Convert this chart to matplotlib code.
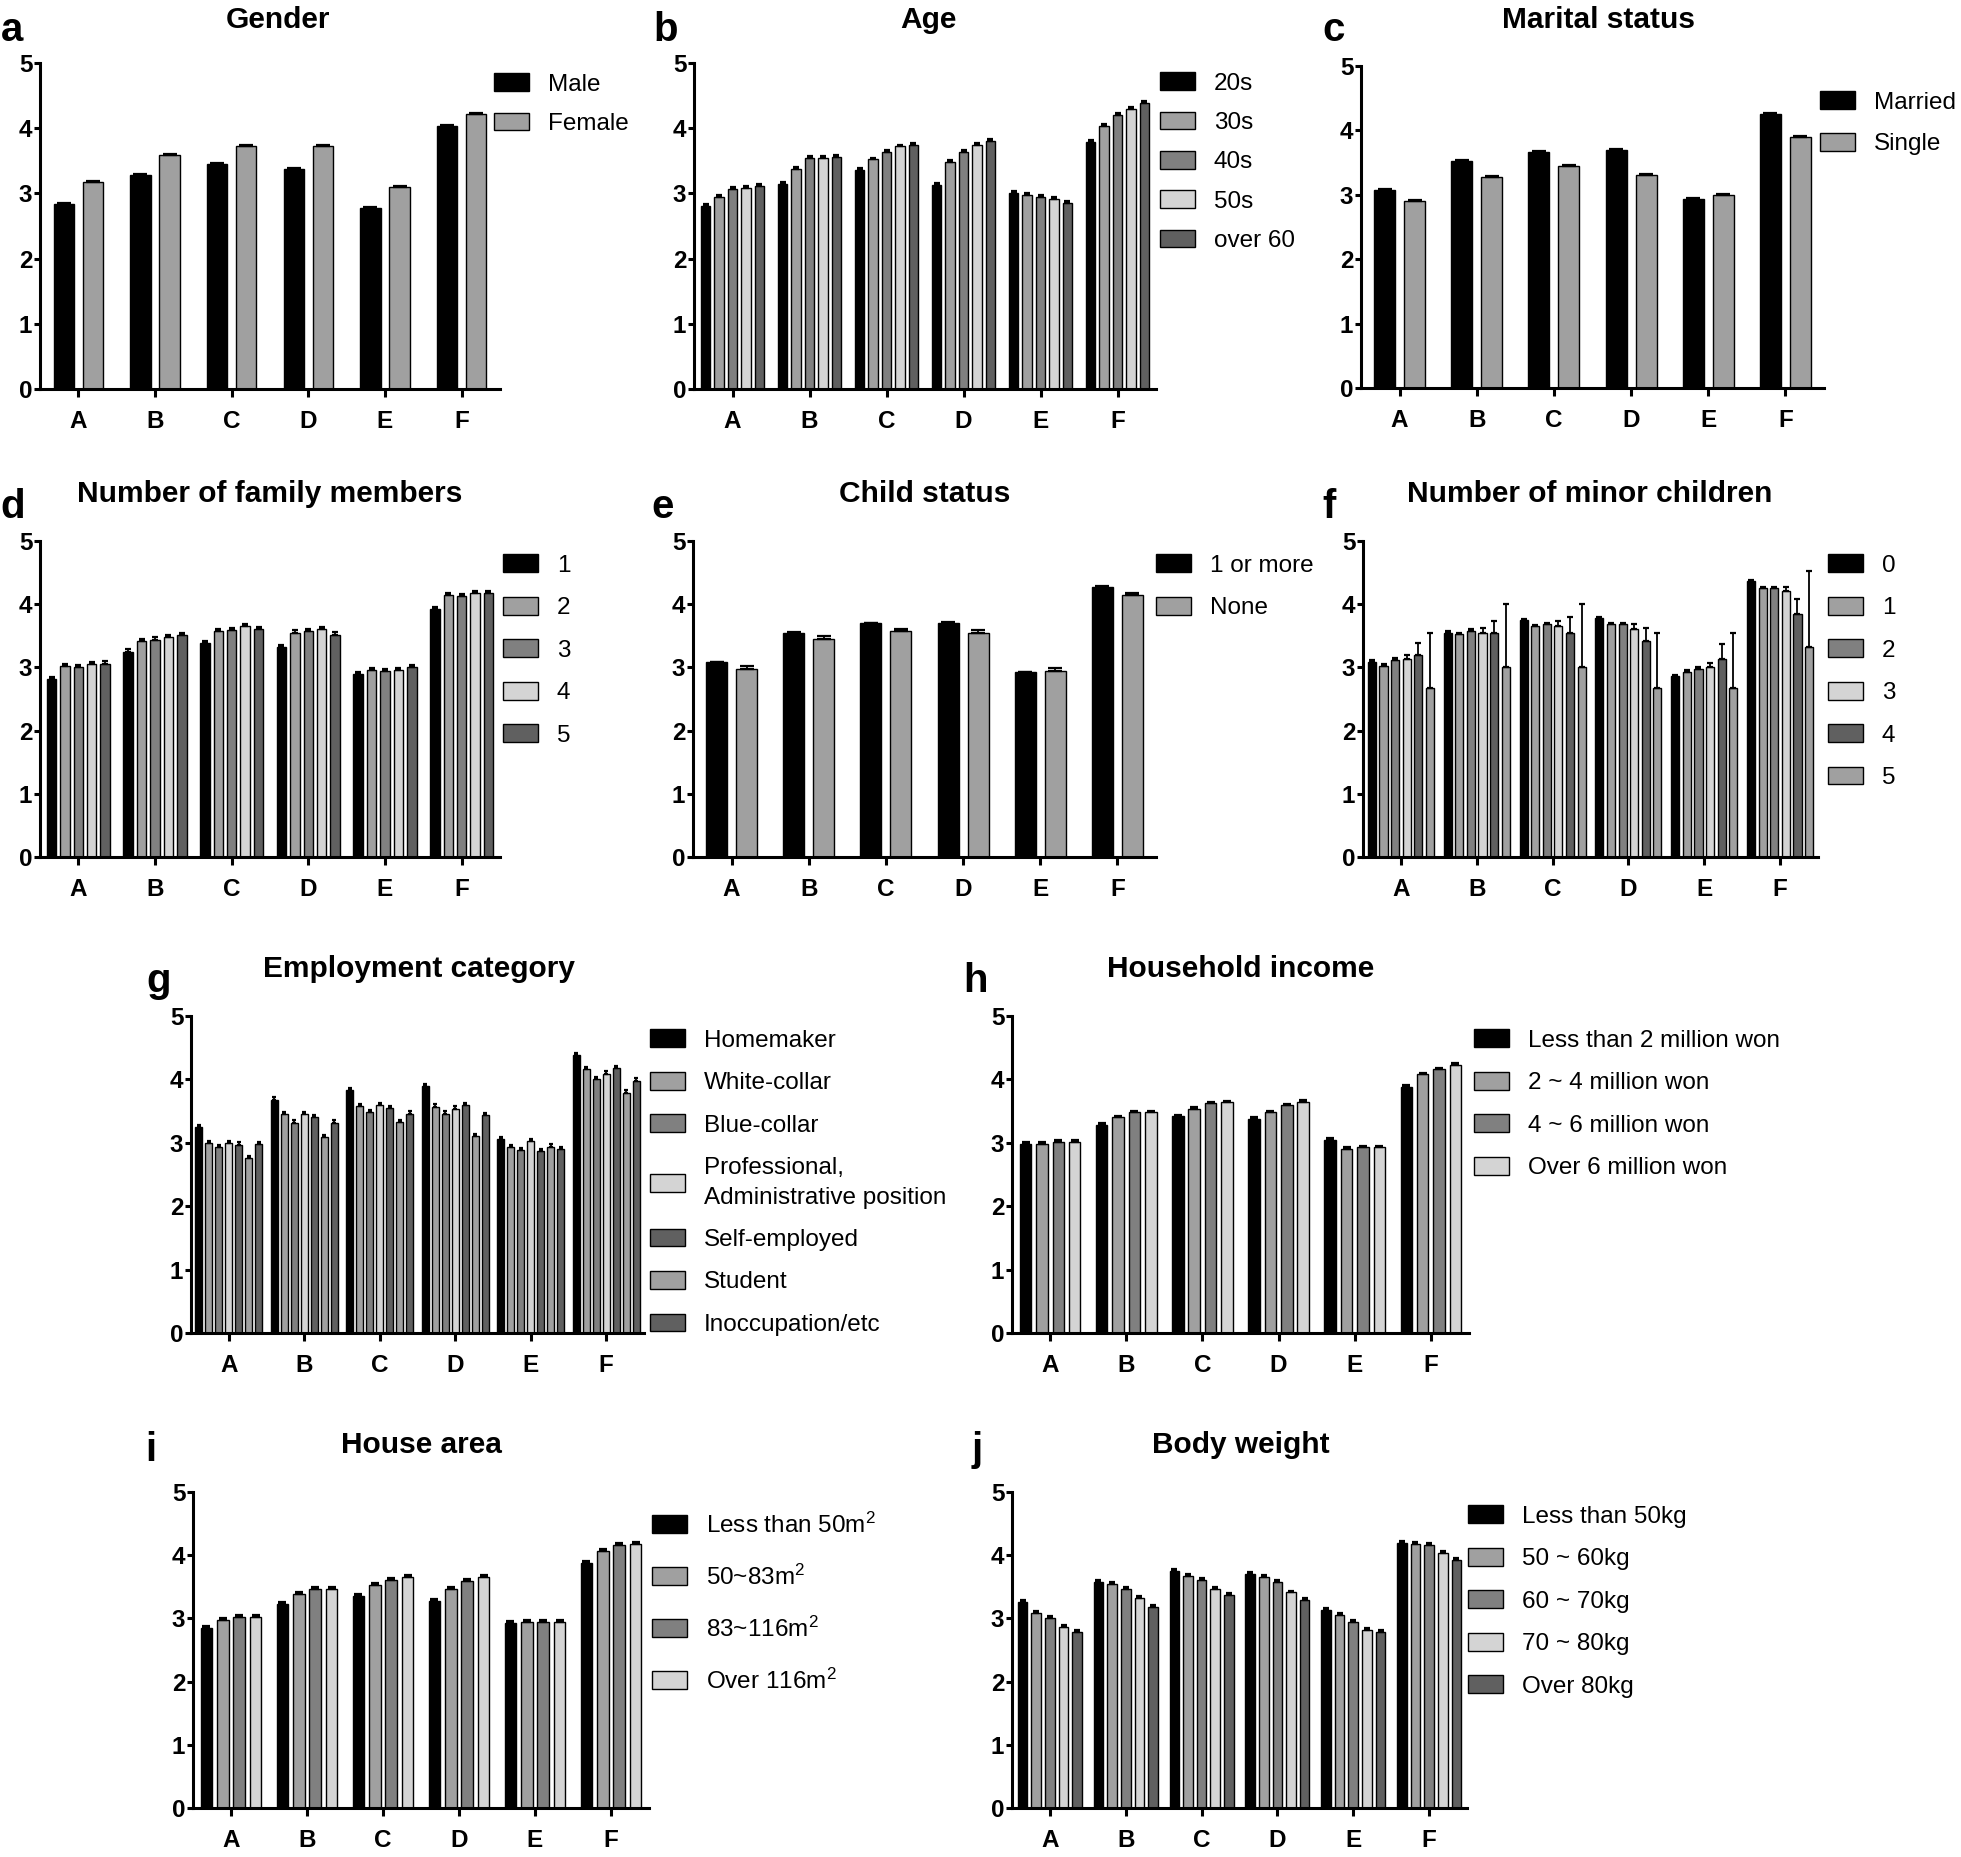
import numpy as np
import matplotlib
matplotlib.use('Agg')
import matplotlib.pyplot as plt

plt.rcParams['font.family'] = ['Liberation Sans', 'DejaVu Sans']
plt.rcParams['mathtext.fontset'] = 'custom'
plt.rcParams['mathtext.rm'] = 'Liberation Sans'
plt.rcParams['mathtext.it'] = 'Liberation Sans:italic'
plt.rcParams['mathtext.bf'] = 'Liberation Sans:bold'

categories = ['A', 'B', 'C', 'D', 'E', 'F']

# a Gender
gender_labels = ['Male', 'Female']
gender_male = [2.84, 3.28, 3.45, 3.38, 2.78, 4.04]
gender_female = [3.18, 3.59, 3.72, 3.72, 3.10, 4.22]
gender_err = 0.015

# b Age
age_labels = ['20s', '30s', '40s', '50s', 'over 60']
age_20s = [2.81, 3.15, 3.36, 3.13, 3.00, 3.79]
age_30s = [2.95, 3.37, 3.52, 3.48, 2.97, 4.03]
age_40s = [3.07, 3.55, 3.63, 3.64, 2.95, 4.21]
age_50s = [3.09, 3.55, 3.72, 3.74, 2.91, 4.29]
age_over60 = [3.12, 3.56, 3.74, 3.80, 2.86, 4.38]
age_err = 0.03

# c Marital status
marital_labels = ['Married', 'Single']
marital_married = [3.07, 3.53, 3.67, 3.69, 2.93, 4.26]
marital_single = [2.91, 3.27, 3.44, 3.31, 3.00, 3.90]
marital_err = 0.015

# d Number of family members
family_labels = ['1', '2', '3', '4', '5']
family_1 = [2.82, 3.25, 3.38, 3.32, 2.89, 3.92]
family_2 = [3.02, 3.41, 3.57, 3.55, 2.96, 4.14]
family_3 = [3.01, 3.44, 3.59, 3.58, 2.94, 4.13]
family_4 = [3.05, 3.48, 3.65, 3.61, 2.96, 4.17]
family_5 = [3.06, 3.51, 3.61, 3.52, 3.00, 4.17]
family_err = 0.035

# e Child status
child_labels = ['1 or more', 'None']
child_some = [3.08, 3.55, 3.70, 3.71, 2.92, 4.28]
child_none = [2.98, 3.45, 3.57, 3.55, 2.95, 4.14]
child_some_err = 0.01
child_none_err = 0.04

# f Number of minor children
minor_labels = ['0', '1', '2', '3', '4', '5']
minor_0 = [3.09, 3.55, 3.75, 3.78, 2.86, 4.36]
minor_1 = [3.03, 3.53, 3.65, 3.69, 2.93, 4.25]
minor_2 = [3.12, 3.58, 3.69, 3.69, 2.98, 4.25]
minor_3 = [3.13, 3.55, 3.66, 3.61, 3.00, 4.21]
minor_4 = [3.19, 3.55, 3.55, 3.42, 3.13, 3.84]
minor_5 = [2.67, 3.00, 3.00, 2.67, 2.67, 3.33]
minor_0_err = [0.03, 0.02, 0.02, 0.02, 0.02, 0.02]
minor_1_err = [0.03, 0.02, 0.02, 0.02, 0.03, 0.02]
minor_2_err = [0.03, 0.02, 0.02, 0.02, 0.03, 0.02]
minor_3_err = [0.06, 0.07, 0.07, 0.07, 0.07, 0.07]
minor_4_err = [0.20, 0.19, 0.24, 0.21, 0.24, 0.24]
minor_5_err = [0.88, 1.00, 1.00, 0.88, 0.88, 1.20]

# g Employment category
employ_labels = ['Homemaker', 'White-collar', 'Blue-collar',
                 'Professional,\nAdministrative position', 'Self-employed',
                 'Student', 'Inoccupation/etc']
employ_home = [3.25, 3.68, 3.83, 3.90, 3.06, 4.38]
employ_white = [2.99, 3.45, 3.58, 3.57, 2.93, 4.16]
employ_blue = [2.93, 3.32, 3.49, 3.46, 2.89, 4.01]
employ_prof = [3.00, 3.45, 3.59, 3.54, 3.03, 4.09]
employ_self = [2.97, 3.41, 3.55, 3.59, 2.87, 4.18]
employ_student = [2.76, 3.09, 3.33, 3.11, 2.94, 3.79]
employ_inocc = [2.98, 3.32, 3.46, 3.44, 2.90, 3.98]
employ_err = 0.035

# h Household income
income_labels = ['Less than 2 million won', '2 ~ 4 million won',
                 '4 ~ 6 million won', 'Over 6 million won']
income_lt2 = [2.98, 3.28, 3.42, 3.38, 3.05, 3.88]
income_2to4 = [2.98, 3.40, 3.54, 3.48, 2.91, 4.08]
income_4to6 = [3.02, 3.48, 3.62, 3.59, 2.93, 4.16]
income_gt6 = [3.02, 3.48, 3.64, 3.65, 2.93, 4.23]
income_err = 0.025

# i House area
SQ = r'$^{\mathregular{2}}$'
house_labels = ['Less than 50m' + SQ, '50~83m' + SQ, '83~116m' + SQ, 'Over 116m' + SQ]
house_lt50 = [2.85, 3.23, 3.35, 3.28, 2.93, 3.88]
house_50to83 = [2.98, 3.39, 3.53, 3.47, 2.94, 4.07]
house_83to116 = [3.02, 3.47, 3.61, 3.59, 2.94, 4.16]
house_gt116 = [3.03, 3.47, 3.66, 3.66, 2.95, 4.18]
house_err = 0.03

# j Body weight
weight_labels = ['Less than 50kg', '50 ~ 60kg', '60 ~ 70kg', '70 ~ 80kg', 'Over 80kg']
weight_lt50 = [3.26, 3.58, 3.75, 3.71, 3.14, 4.19]
weight_50to60 = [3.09, 3.54, 3.67, 3.66, 3.05, 4.18]
weight_60to70 = [3.01, 3.46, 3.61, 3.58, 2.94, 4.16]
weight_70to80 = [2.86, 3.32, 3.46, 3.41, 2.82, 4.04]
weight_gt80 = [2.79, 3.18, 3.37, 3.29, 2.78, 3.92]
weight_err = 0.03

# ---------------- styling / layout ----------------
BK, G1, G2, G3, G4 = '#000000', '#a0a0a0', '#808080', '#d4d4d4', '#606060'

W, H = 1961, 1857
fig = plt.figure(figsize=(W / 100, H / 100), dpi=100)

LEG_FS = 17.5
FS_PX = LEG_FS * 100 / 72
TEXT_H = 1.117 * FS_PX
TICK_FS = 17.5

panels = [
    dict(letter='a', title='Gender', series=[gender_male, gender_female], labels=gender_labels,
         colors=[BK, G1], errs=[gender_err, gender_err],
         rect=(40, 63, 460, 389), pitch=0.38, letter_pos=(1, 41), title_base=28,
         title_x=278, leg=(494, 87, 0.70)),
    dict(letter='b', title='Age', series=[age_20s, age_30s, age_40s, age_50s, age_over60],
         labels=age_labels, colors=[BK, G1, G2, G3, G4], errs=[age_err] * 5,
         rect=(694, 63, 462, 389), pitch=0.175, letter_pos=(653, 41), title_base=28,
         title_x=928, leg=(1160, 86, 0.70)),
    dict(letter='c', title='Marital status', series=[marital_married, marital_single],
         labels=marital_labels, colors=[BK, G1], errs=[marital_err, marital_err],
         rect=(1361, 66, 463, 388), pitch=0.39, letter_pos=(1322, 41), title_base=28,
         title_x=1598, leg=(1820, 105, 0.80)),
    dict(letter='d', title='Number of family members',
         series=[family_1, family_2, family_3, family_4, family_5], labels=family_labels,
         colors=[BK, G1, G2, G3, G4], errs=[family_err] * 5,
         rect=(40, 541, 460, 857), pitch=0.175, letter_pos=(0, 518), title_base=502,
         title_x=270, leg=(503, 568, 0.83)),
    dict(letter='e', title='Child status', series=[child_some, child_none], labels=child_labels,
         colors=[BK, G1], errs=[child_some_err, child_none_err],
         rect=(693, 541, 463, 857), pitch=0.39, letter_pos=(651, 518), title_base=502,
         title_x=925, leg=(1156, 568, 0.83)),
    dict(letter='f', title='Number of minor children',
         series=[minor_0, minor_1, minor_2, minor_3, minor_4, minor_5], labels=minor_labels,
         colors=[BK, G1, G2, G3, G4, G1],
         errs=[minor_0_err, minor_1_err, minor_2_err, minor_3_err, minor_4_err, minor_5_err],
         rect=(1363, 541, 455, 857), pitch=0.153, letter_pos=(1322, 518), title_base=502,
         title_x=1590, leg=(1828, 568, 0.83)),
    dict(letter='g', title='Employment category',
         series=[employ_home, employ_white, employ_blue, employ_prof, employ_self,
                 employ_student, employ_inocc], labels=employ_labels,
         colors=[BK, G1, G2, G3, G4, G1, G4], errs=[employ_err] * 7,
         rect=(191, 1016, 453, 1333), pitch=0.133, letter_pos=(146, 992), title_base=977,
         title_x=419, leg=(650, 1043, 0.83)),
    dict(letter='h', title='Household income',
         series=[income_lt2, income_2to4, income_4to6, income_gt6], labels=income_labels,
         colors=[BK, G1, G2, G3], errs=[income_err] * 4,
         rect=(1012, 1016, 457, 1333), pitch=0.215, letter_pos=(963, 992), title_base=977,
         title_x=1241, leg=(1474, 1043, 0.83)),
    dict(letter='i', title='House area',
         series=[house_lt50, house_50to83, house_83to116, house_gt116], labels=house_labels,
         colors=[BK, G1, G2, G3], errs=[house_err] * 4,
         rect=(193, 1492, 456, 1808), pitch=0.215, letter_pos=(145, 1461), title_base=1453,
         title_x=421, leg=(652, 1526, 1.10)),
    dict(letter='j', title='Body weight',
         series=[weight_lt50, weight_50to60, weight_60to70, weight_70to80, weight_gt80],
         labels=weight_labels, colors=[BK, G1, G2, G3, G4], errs=[weight_err] * 5,
         rect=(1012, 1492, 455, 1808), pitch=0.18, letter_pos=(972, 1461), title_base=1453,
         title_x=1241, leg=(1468, 1519, 0.83)),
]


def draw(p):
    left, top, width, bottom = p['rect']
    ax = fig.add_axes([left / W, 1 - bottom / H, width / W, (bottom - top) / H])
    n = len(p['series'])
    x = np.arange(len(categories))
    pitch = p['pitch']
    bw = pitch * 0.7
    bar_px = bw * width / 6
    cs = 0.32 * bar_px * 0.72
    for i, (vals, lab, col, e) in enumerate(zip(p['series'], p['labels'], p['colors'], p['errs'])):
        off = (i - (n - 1) / 2) * pitch
        e = np.broadcast_to(np.asarray(e, float), (len(vals),))
        ax.bar(x + off, vals, bw, color=col, edgecolor='black', linewidth=1.0,
               yerr=[np.zeros(len(vals)), e], capsize=cs,
               error_kw=dict(elinewidth=1.3, capthick=1.6, ecolor='black'),
               label=lab, zorder=2)
    ax.set_xlim(-0.5, 5.5)
    ax.set_ylim(0, 5)
    for s in ['top', 'right']:
        ax.spines[s].set_visible(False)
    for s in ['left', 'bottom']:
        ax.spines[s].set_linewidth(2.2)
    ax.set_yticks(range(6))
    ax.set_xticks(x)
    ax.set_xticklabels(categories)
    ax.tick_params(axis='y', length=4.5, width=2.2, pad=1, labelsize=TICK_FS)
    ax.tick_params(axis='x', length=6, width=2.2, pad=9, labelsize=TICK_FS)
    for lbl in ax.get_xticklabels() + ax.get_yticklabels():
        lbl.set_fontweight('bold')

    fig.text(p['title_x'] / W, 1 - p['title_base'] / H, p['title'], ha='center',
             va='baseline', fontsize=21.5, fontweight='bold')
    lx, lb = p['letter_pos']
    fig.text(lx / W, 1 - lb / H, p['letter'], ha='left', va='baseline', fontsize=29,
             fontweight='bold')

    hx, cy, ls = p['leg']
    leg = ax.legend(loc='upper left', bbox_to_anchor=(hx / W, 1 - (cy - TEXT_H / 2) / H),
                    bbox_transform=fig.transFigure, frameon=False, borderpad=0,
                    borderaxespad=0, handlelength=1.44, handleheight=0.74,
                    handletextpad=0.78, labelspacing=ls, fontsize=LEG_FS)
    for t in leg.get_texts():
        t.set_linespacing(1.45)


for p in panels:
    draw(p)

fig.savefig('out.png', dpi=100)
